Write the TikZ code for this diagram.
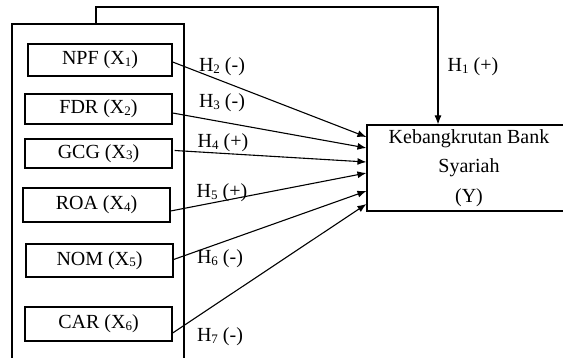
\documentclass[tikz,border=0pt]{standalone}
\usepackage{fontspec}
\setmainfont{Liberation Serif}
\usetikzlibrary{arrows.meta}
\newcommand{\sbs}[1]{\raisebox{-1.5pt}{\fontsize{13}{13}\selectfont #1}}
\begin{document}
\begin{tikzpicture}[x=1pt,y=-1pt,
  every node/.style={font=\fontsize{20}{29.5}\selectfont},
  var/.style={draw,line width=1.3pt,inner sep=0pt},
  grpbox/.style={draw,line width=2pt,inner sep=0pt},
  arr/.style={line width=1.1pt,-{Latex[length=9pt,width=7pt]}},
  lbl/.style={inner sep=0pt}]
\useasboundingbox (0,0) rectangle (563,358);
\node[grpbox,minimum width=172pt,minimum height=340pt] (grp) at (98,194) {};
\node[var,minimum width=144pt,minimum height=32pt] (x1) at (100,60) {NPF (X\sbs{1})};
\node[var,minimum width=147pt,minimum height=30pt] (x2) at (98.5,109) {FDR (X\sbs{2})};
\node[var,minimum width=147pt,minimum height=29pt] (x3) at (98.5,153.5) {GCG (X\sbs{3})};
\node[var,minimum width=147pt,minimum height=34pt] (x4) at (96.5,205) {ROA (X\sbs{4})};
\node[var,minimum width=147pt,minimum height=33pt] (x5) at (99.5,260.5) {NOM (X\sbs{5})};
\node[var,minimum width=147pt,minimum height=34pt] (x6) at (98.5,324) {CAR (X\sbs{6})};
\node[draw,line width=1.1pt,minimum width=204pt,minimum height=86pt,align=center,inner sep=0pt] (y) at (469,168)
  {Kebangkrutan Bank\\Syariah\\(Y)};
\draw[arr] ([xshift=85pt]grp.north west) -- ++(0,-16) -| ([xshift=-31pt]y.north);
\draw[arr] ([yshift=-2pt]x1.east) -- ([yshift=31pt]y.west);
\draw[arr] ([yshift=-4pt]x2.east) -- ([yshift=20pt]y.west);
\draw[arr] ([xshift=2pt,yshift=3pt]x3.east) -- ([yshift=6pt]y.west);
\draw[arr] ([yshift=-6pt]x4.east) -- ([yshift=-5pt]y.west);
\draw[arr] ([yshift=1pt]x5.east) -- ([yshift=-23pt]y.west);
\draw[arr] ([yshift=-9pt]x6.east) -- ([yshift=-36pt]y.west);
\node[lbl] (h1) at (473,67) {H\sbs{1} (+)};
\node[lbl] (h2) at (222,67) {H\sbs{2} (-)};
\node[lbl] (h3) at (222,103) {H\sbs{3} (-)};
\node[lbl] (h4) at (223,143) {H\sbs{4} (+)};
\node[lbl] (h5) at (222,193) {H\sbs{5} (+)};
\node[lbl] (h6) at (220,259) {H\sbs{6} (-)};
\node[lbl] (h7) at (220,337) {H\sbs{7} (-)};
\end{tikzpicture}
\end{document}
